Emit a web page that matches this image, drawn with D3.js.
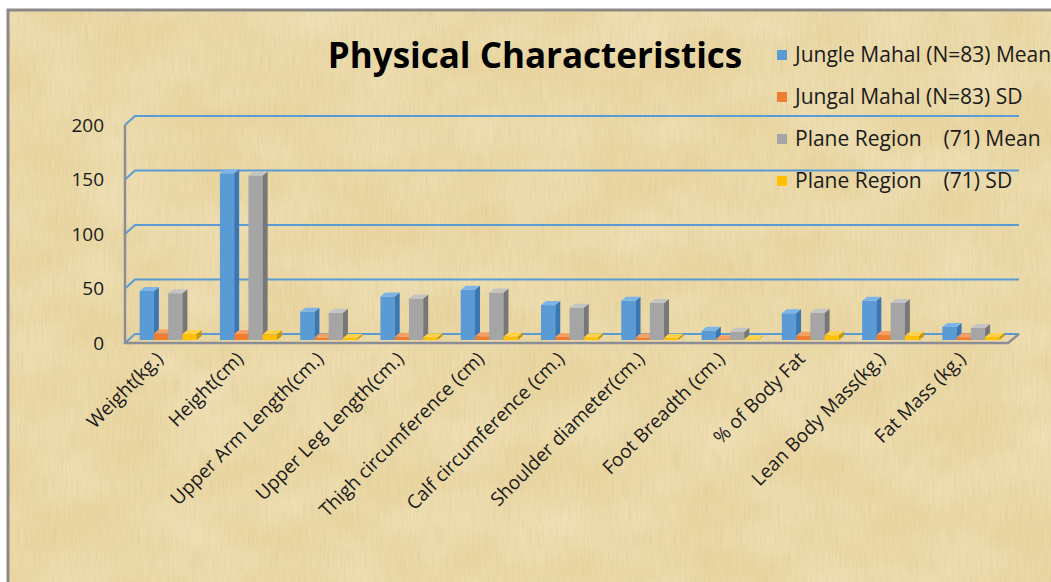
<!DOCTYPE html>
<head>
  <meta charset="UTF-8">
  <script src="https://d3js.org/d3.v7.min.js"></script>
  <style>
    body { margin: 0; background: #fff; }
    text { font-family: "Open Sans", "DejaVu Sans", sans-serif; fill: #1a1a1a; }
  </style>
</head>
<body>
<div id="my_dataviz"></div>
<script>

  // chart data
  var categories = ["Weight(kg.)", "Height(cm)", "Upper Arm Length(cm.)", "Upper Leg Length(cm.)",
    "Thigh circumference (cm)", "Calf circumference (cm.)", "Shoulder diameter(cm.)",
    "Foot Breadth (cm.)", "% of Body Fat", "Lean Body Mass(kg.)", "Fat Mass (kg.)"];
  var jmMean = [45, 153, 26, 40, 46, 32, 36, 8.5, 24.5, 36, 12];
  var jmSD   = [6, 5.5, 2.2, 3, 3.4, 2.8, 2.3, 0.7, 4, 4.5, 2.6];
  var prMean = [43, 151, 25, 38, 43.5, 29.5, 34, 7.5, 25, 34, 11];
  var prSD   = [5.5, 5.2, 1.9, 2.6, 3.2, 2.5, 2, 0.6, 4.3, 3.8, 2.8];
  var seriesNames = ["Jungle Mahal (N=83) Mean", "Jungal Mahal (N=83) SD",
    "Plane Region    (71) Mean", "Plane Region    (71) SD"];
  var yTicks = [0, 50, 100, 150, 200];

  var series = [jmMean, jmSD, prMean, prSD];
  // front, side, top colours per series
  var colors = [
    ["#5b9bd5", "#3a78b5", "#7db3e6"],
    ["#ed7d31", "#b85c20", "#f3a064"],
    ["#a5a5a5", "#777777", "#c4c4c4"],
    ["#ffc000", "#c99700", "#ffd24d"]
  ];

  var W = 1051, H = 582;
  var x0 = 125, x1 = 1008;       // front floor edge
  var depth = [11, -9];          // back wall offset
  var plane = [3, -3];           // where the bars stand
  var barDepth = [5, -4];

  var svg = d3.select("#my_dataviz").append("svg")
    .attr("width", W).attr("height", H);

  // papyrus background
  var defs = svg.append("defs");
  var filt = defs.append("filter").attr("id", "papyrus")
    .attr("x", 0).attr("y", 0).attr("width", "100%").attr("height", "100%");
  filt.append("feTurbulence").attr("type", "fractalNoise")
    .attr("baseFrequency", "0.5 0.04").attr("numOctaves", 3).attr("seed", 3);
  filt.append("feColorMatrix").attr("type", "matrix")
    .attr("values", "0 0 0 0 0.55  0 0 0 0 0.42  0 0 0 0 0.2  0 0 0 -1.2 0.7");
  filt.append("feComposite").attr("in2", "SourceGraphic").attr("operator", "in");

  var blotch = defs.append("filter").attr("id", "blotch")
    .attr("x", 0).attr("y", 0).attr("width", "100%").attr("height", "100%");
  blotch.append("feTurbulence").attr("type", "fractalNoise")
    .attr("baseFrequency", "0.012 0.02").attr("numOctaves", 2).attr("seed", 7);
  blotch.append("feColorMatrix").attr("type", "matrix")
    .attr("values", "0 0 0 0 1  0 0 0 0 0.97  0 0 0 0 0.85  0 0 0 -1.6 1.1");
  blotch.append("feComposite").attr("in2", "SourceGraphic").attr("operator", "in");

  svg.append("rect")
    .attr("x", 8).attr("y", 10).attr("width", W + 20).attr("height", H + 20)
    .attr("fill", "#e9d6a2");
  svg.append("rect")
    .attr("x", 8).attr("y", 10).attr("width", W + 20).attr("height", H + 20)
    .attr("fill", "#000").attr("filter", "url(#blotch)").attr("opacity", 0.3);
  svg.append("rect")
    .attr("x", 8).attr("y", 10).attr("width", W + 20).attr("height", H + 20)
    .attr("fill", "#000").attr("filter", "url(#papyrus)").attr("opacity", 0.3);
  svg.append("rect")
    .attr("x", 8).attr("y", 10).attr("width", W + 20).attr("height", H + 20)
    .attr("fill", "none").attr("stroke", "#8c8a86").attr("stroke-width", 3);

  // scales
  var y = d3.scaleLinear().domain([0, 200]).range([343, 125]);
  var x = d3.scaleBand().domain(categories).range([x0, x1])
    .paddingInner(0.29).paddingOuter(0.145);
  var xs = d3.scaleBand().domain(d3.range(series.length)).range([0, x.bandwidth()]);

  // gridlines on back wall + side wall
  svg.append("g").selectAll("path").data(yTicks).enter().append("path")
    .attr("d", function (t) {
      var yf = y(t);
      return "M" + x0 + "," + yf + "L" + (x0 + depth[0] - 1) + "," + (yf + depth[1]) +
        "L" + (x1 + depth[0]) + "," + (yf + depth[1]);
    })
    .attr("fill", "none").attr("stroke", "#5b9bd5").attr("stroke-width", 2);

  // left axis line and floor edge
  svg.append("path")
    .attr("d", "M" + x0 + "," + y(200) + "L" + x0 + "," + y(0) + "L" + x1 + "," + y(0) +
      "L" + (x1 + depth[0]) + "," + (y(0) + depth[1]))
    .attr("fill", "none").attr("stroke", "#8b8f95").attr("stroke-width", 2.5);

  // y axis labels
  svg.append("g").selectAll("text").data(yTicks).enter().append("text")
    .attr("x", 104).attr("y", function (t) { return y(t); })
    .attr("dy", "0.35em")
    .attr("text-anchor", "end")
    .style("font-size", "19px")
    .text(function (t) { return t; });

  // 3d bars
  var bars = [];
  categories.forEach(function (c, i) {
    series.forEach(function (s, j) {
      bars.push({ cat: c, s: j, v: s[i] });
    });
  });

  var barG = svg.append("g").selectAll("g").data(bars).enter().append("g");
  function geom(d) {
    var bx = x(d.cat) + xs(d.s) + plane[0];
    var w = xs.bandwidth();
    var base = y(0) + plane[1];
    var top = y(d.v) + plane[1];
    return { bx: bx, w: w, base: base, top: top };
  }
  barG.append("rect")
    .attr("x", function (d) { return geom(d).bx; })
    .attr("y", function (d) { return geom(d).top; })
    .attr("width", function (d) { return geom(d).w; })
    .attr("height", function (d) { var g = geom(d); return g.base - g.top; })
    .attr("fill", function (d) { return colors[d.s][0]; });
  barG.append("path")
    .attr("d", function (d) {
      var g = geom(d), r = g.bx + g.w;
      return "M" + r + "," + g.top + "L" + (r + barDepth[0]) + "," + (g.top + barDepth[1]) +
        "L" + (r + barDepth[0]) + "," + (g.base + barDepth[1]) + "L" + r + "," + g.base + "Z";
    })
    .attr("fill", function (d) { return colors[d.s][1]; });
  barG.append("path")
    .attr("d", function (d) {
      var g = geom(d), r = g.bx + g.w;
      return "M" + g.bx + "," + g.top + "L" + (g.bx + barDepth[0]) + "," + (g.top + barDepth[1]) +
        "L" + (r + barDepth[0]) + "," + (g.top + barDepth[1]) + "L" + r + "," + g.top + "Z";
    })
    .attr("fill", function (d) { return colors[d.s][2]; });

  // category labels, rotated
  svg.append("g").selectAll("text").data(categories).enter().append("text")
    .attr("transform", function (c) {
      return "translate(" + (x(c) + x.bandwidth() / 2 - 1) + ",360) rotate(-45)";
    })
    .attr("text-anchor", "end")
    .style("font-size", "19px")
    .text(function (c) { return c; });

  // title
  svg.append("text")
    .attr("x", 535).attr("y", 68)
    .attr("text-anchor", "middle")
    .style("font-size", "35px")
    .style("font-weight", "bold")
    .style("fill", "#000")
    .text("Physical Characteristics");

  // legend
  var legendY = [55, 97, 139, 181];
  var leg = svg.append("g").selectAll("g").data(seriesNames).enter().append("g")
    .attr("transform", function (d, i) { return "translate(777," + legendY[i] + ")"; });
  leg.append("rect")
    .attr("x", 0).attr("y", -5).attr("width", 10).attr("height", 10)
    .attr("fill", function (d, i) { return colors[i][0]; });
  leg.append("text")
    .attr("x", 18).attr("dy", "0.35em")
    .style("font-size", "21px")
    .style("white-space", "pre")
    .text(function (d) { return d; });

</script>
</body>
